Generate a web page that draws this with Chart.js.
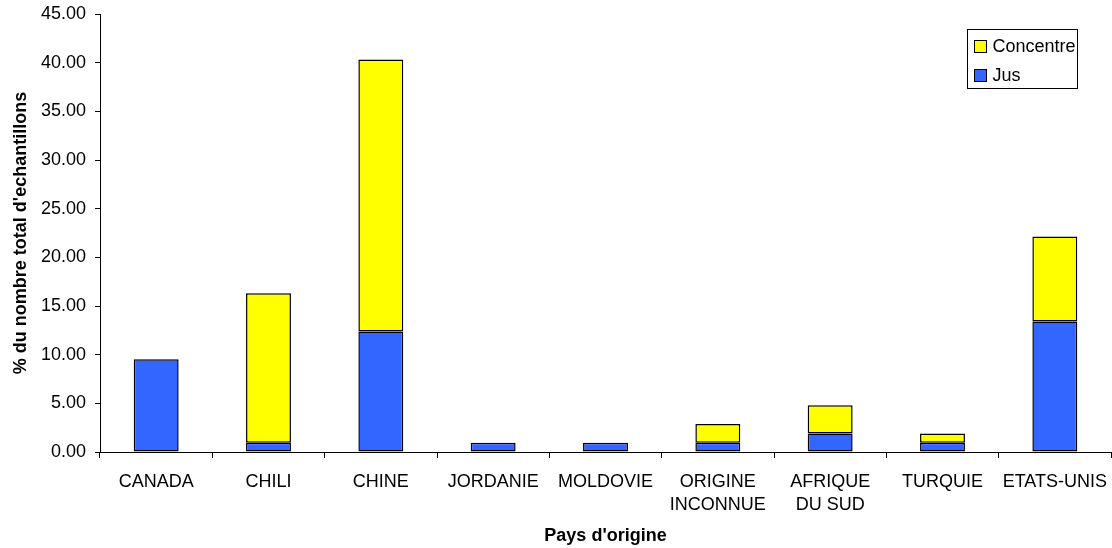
<!DOCTYPE html>
<html>
<head>
<meta charset="utf-8">
<script src="https://cdn.jsdelivr.net/npm/chart.js@4.4.1/dist/chart.umd.min.js"></script>
<style>
  html, body { margin: 0; padding: 0; background: #fff; }
  #wrap { width: 1112px; height: 548px; }
</style>
</head>
<body>
<div id="wrap"><canvas id="c" width="1112" height="548"></canvas></div>
<script>
// Pays d'origine des échantillons
const countries = ['CANADA', 'CHILI', 'CHINE', 'JORDANIE', 'MOLDOVIE',
  ['ORIGINE', 'INCONNUE'], ['AFRIQUE', 'DU SUD'], 'TURQUIE', 'ETATS-UNIS'];

// % du nombre total d'échantillons, par type de produit (empilés)
const jus       = [9.52, 0.95, 12.38, 0.95, 0.95, 0.95, 1.90, 0.95, 13.40];
const concentre = [null, 15.35, 27.95, null, null, 1.93, 2.90, 0.95, 8.75];

const yMin = 0, yMax = 45, yStep = 5;

const FONT = "'Liberation Sans', Arial, sans-serif";

// Legend drawn in a framed box inside the plot area, top right
const boxedLegend = {
  id: 'boxedLegend',
  afterDraw(chart) {
    const { ctx, chartArea } = chart;
    const items = chart.data.datasets.map(d => ({ label: d.label, color: d.backgroundColor })).reverse();
    const left = Math.round(chartArea.right - 144) + 0.5, top = Math.round(chartArea.top + 15) + 0.5;
    const w = 110, h = 59;
    ctx.save();
    ctx.fillStyle = '#fff';
    ctx.fillRect(left, top, w, h);
    ctx.strokeStyle = '#000';
    ctx.lineWidth = 1;
    ctx.strokeRect(left, top, w, h);
    ctx.font = '18px ' + FONT;
    ctx.textBaseline = 'middle';
    ctx.textAlign = 'left';
    items.forEach((it, i) => {
      const cy = top + 17 + i * 29;
      ctx.fillStyle = it.color;
      ctx.fillRect(left + 7, cy - 6, 12, 12);
      ctx.strokeRect(left + 7, cy - 6, 12, 12);
      ctx.fillStyle = '#000';
      ctx.fillText(it.label, left + 25, cy + 0.5);
    });
    ctx.restore();
  }
};

new Chart(document.getElementById('c'), {
  type: 'bar',
  data: {
    labels: countries,
    datasets: [
      { label: 'Jus', data: jus, backgroundColor: '#3366FF', borderColor: '#000', borderWidth: 1.5, borderSkipped: false },
      { label: 'Concentre', data: concentre, backgroundColor: '#FFFF00', borderColor: '#000', borderWidth: 1.5, borderSkipped: false }
    ]
  },
  options: {
    responsive: false,
    animation: false,
    devicePixelRatio: 1,
    layout: { padding: { top: 14, right: 1, left: 0, bottom: 0 } },
    datasets: { bar: { categoryPercentage: 1.0, barPercentage: 0.4 } },
    plugins: {
      legend: { display: false },
      tooltip: { enabled: false }
    },
    scales: {
      x: {
        stacked: true,
        afterFit(scale) { scale.height = 96; scale.paddingLeft = 0; scale.paddingRight = 0; },
        grid: { display: true, drawOnChartArea: false, offset: true, tickLength: 6, color: '#000', tickColor: '#000' },
        border: { display: true, color: '#000', width: 1 },
        ticks: { color: '#000', padding: 12, maxRotation: 0, autoSkip: false,
                 font: { family: FONT, size: 18, lineHeight: 1.3 } },
        title: { display: true, text: "Pays d'origine", color: '#000',
                 font: { family: FONT, size: 18, weight: 'bold' }, padding: { top: 0, bottom: 1 } }
      },
      y: {
        stacked: true,
        min: yMin, max: yMax,
        afterFit(scale) { scale.width = 100; scale.paddingTop = 0; scale.paddingBottom = 0; },
        grid: { display: true, drawOnChartArea: false, tickLength: 5, color: '#000', tickColor: '#000' },
        border: { display: true, color: '#000', width: 1 },
        ticks: { stepSize: yStep, color: '#000', padding: 9,
                 font: { family: FONT, size: 18 },
                 callback: v => Number(v).toFixed(2) },
        title: { display: true, text: "% du nombre total d'echantillons", color: '#000',
                 font: { family: FONT, size: 18, weight: 'bold' }, padding: { top: 10, bottom: 0 } }
      }
    }
  },
  plugins: [boxedLegend]
});
</script>
</body>
</html>
